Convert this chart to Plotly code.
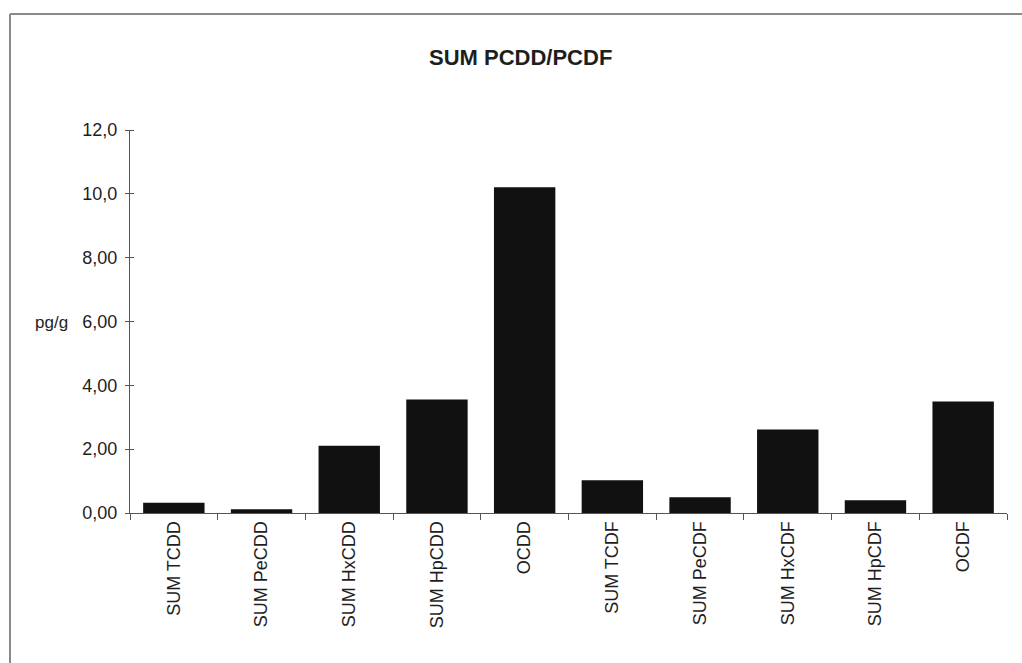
import plotly.graph_objects as go

categories = ["SUM TCDD", "SUM PeCDD", "SUM HxCDD", "SUM HpCDD", "OCDD",
              "SUM TCDF", "SUM PeCDF", "SUM HxCDF", "SUM HpCDF", "OCDF"]
values = [0.32, 0.12, 2.11, 3.56, 10.21, 1.03, 0.49, 2.62, 0.40, 3.49]
y_tickvals = [0, 2, 4, 6, 8, 10, 12]
y_ticktext = ["0,00", "2,00", "4,00", "6,00", "8,00", "10,0", "12,0"]

FONT = "Liberation Sans, Arial, sans-serif"
TXT = "#1e1e1e"
AX = "#555555"

W, H = 1022, 663
L, T = 130, 130
PW, PH = 877, 383
R, B = W - L - PW, H - T - PH


def px(xr):
    return (xr - L) / PW


def py(yr):
    return (T + PH - yr) / PH


fig = go.Figure()
fig.add_trace(go.Bar(x=categories, y=values, marker=dict(color="#111111", line=dict(width=0)),
                     showlegend=False))
# invisible trace for the axis-line-only y axis
fig.add_trace(go.Scatter(x=[categories[0]], y=[0], yaxis="y2", mode="markers",
                         marker=dict(opacity=0), showlegend=False, hoverinfo="skip"))

fig.update_layout(
    width=W, height=H,
    margin=dict(l=L, r=R, t=T, b=B),
    paper_bgcolor="white", plot_bgcolor="white",
    font=dict(family=FONT, color=TXT, size=18),
    bargap=0.3,
    xaxis=dict(range=[-0.5, 9.5], showline=True, linecolor=AX, linewidth=1,
               ticks="outside", ticklen=6, tickcolor=AX, tickson="boundaries",
               tickangle=-90, showgrid=False, zeroline=False,
               tickfont=dict(size=18, family=FONT, color=TXT)),
    # tick axis shifted slightly right so its ticks cross the axis line
    yaxis=dict(range=[0, 12], tickvals=y_tickvals, ticktext=y_ticktext,
               anchor="free", position=4 / PW,
               showline=False, ticks="outside", ticklen=9,
               tickcolor=AX, showgrid=False, zeroline=False, ticklabelstandoff=4,
               tickfont=dict(size=18, family=FONT, color=TXT)),
    yaxis2=dict(range=[0, 12], overlaying="y", side="left", anchor="x",
                showticklabels=False, ticks="", showline=True, linecolor=AX, linewidth=1,
                showgrid=False, zeroline=False),
    annotations=[
        dict(text="<b>SUM PCDD/PCDF</b>", xref="paper", yref="paper",
             x=px(520), y=py(57), xanchor="center", yanchor="middle",
             showarrow=False, font=dict(size=22, family=FONT, color=TXT)),
        dict(text="pg/g", xref="paper", yref="paper",
             x=px(70), y=py(322), xanchor="right", yanchor="middle",
             showarrow=False, font=dict(size=17, family=FONT, color=TXT)),
    ],
    shapes=[
        dict(type="line", xref="paper", yref="paper",
             x0=px(10), y0=py(14), x1=px(10), y1=py(680),
             line=dict(color="#8a8a8a", width=2)),
        dict(type="line", xref="paper", yref="paper",
             x0=px(10), y0=py(14), x1=px(1040), y1=py(14),
             line=dict(color="#8a8a8a", width=2)),
    ],
)

fig.write_html(
    "out.html",
    config={"displayModeBar": False},
    post_script="document.body.style.margin='0';document.body.style.overflow='hidden';",
)
